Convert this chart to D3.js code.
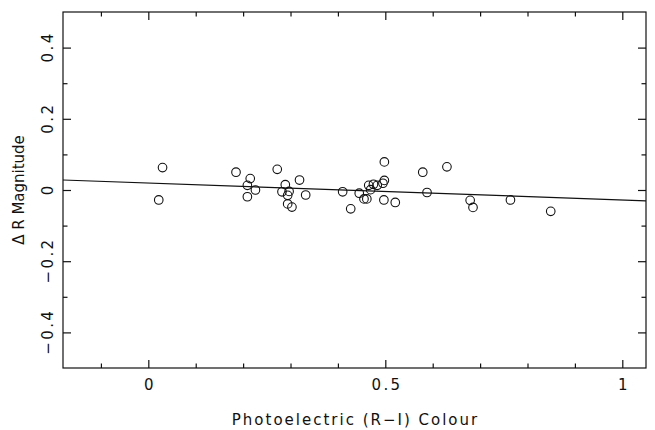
<!DOCTYPE html>
<html>
<head>
<meta charset="utf-8">
<script src="https://cdn.jsdelivr.net/npm/d3@7"></script>
<style>
  body { margin: 0; background: #fff; }
  svg text { font-family: "DejaVu Sans", sans-serif; fill: #111; }
</style>
</head>
<body>
<svg width="655" height="430"></svg>
<script>
// colour index (R-I) and residual magnitude for each star
const colourRI = [
  0.022, 0.030, 0.185, 0.215, 0.209, 0.226, 0.209, 0.272, 0.289, 0.282,
  0.297, 0.294, 0.294, 0.303, 0.319, 0.332, 0.410, 0.427, 0.445, 0.455,
  0.461, 0.465, 0.469, 0.475, 0.483, 0.495, 0.498, 0.498, 0.497, 0.521,
  0.579, 0.588, 0.630, 0.679, 0.685, 0.764, 0.849
];
const deltaR = [
  -0.028, 0.063, 0.050, 0.032, 0.013, 0.000, -0.019, 0.058, 0.015, -0.005,
  -0.004, -0.015, -0.039, -0.048, 0.028, -0.014, -0.005, -0.053, -0.009, -0.025,
  -0.025, 0.013, 0.001, 0.016, 0.013, 0.019, 0.027, 0.079, -0.028, -0.035,
  0.050, -0.007, 0.065, -0.029, -0.049, -0.028, -0.060
];

// linear fit
const fitIntercept = 0.0195;
const fitSlope = -0.0474;

const xMajor = [0, 0.5, 1];
const xMinor = [-0.1, 0.1, 0.2, 0.3, 0.4, 0.6, 0.7, 0.8, 0.9];
const yMajor = [-0.4, -0.2, 0, 0.2, 0.4];
const yMinor = [-0.3, -0.1, 0.1, 0.3];

const svg = d3.select("svg");
const width = +svg.attr("width");
const height = +svg.attr("height");
const margin = {top: 12, right: 9, bottom: 62, left: 63};

const x = d3.scaleLinear()
  .domain([-0.18, 1.05])
  .range([margin.left, width - margin.right]);

const y = d3.scaleLinear()
  .domain([-0.5, 0.5])
  .range([height - margin.bottom, margin.top]);

const fmt = d => d === 0 ? "0" : d3.format("")(+d.toFixed(1)).replace("-", "\u2212");

// frame
svg.append("rect")
  .attr("x", margin.left)
  .attr("y", margin.top)
  .attr("width", width - margin.left - margin.right)
  .attr("height", height - margin.top - margin.bottom)
  .attr("fill", "none")
  .attr("stroke", "#111")
  .attr("stroke-width", 1.2);

function ticks(axis, pos, values, size, labels) {
  const g = svg.append("g")
    .attr("transform", pos)
    .call(axis.tickValues(values).tickSize(-size).tickSizeOuter(0)
      .tickFormat(labels ? fmt : ""));
  g.select(".domain").remove();
  g.selectAll("line").attr("stroke", "#111").attr("stroke-width", 1.2);
  return g;
}

const bottomY = height - margin.bottom;
const rightX = width - margin.right;

// bottom
const gx = ticks(d3.axisBottom(x), `translate(0,${bottomY})`, xMajor, 8, true);
gx.selectAll("text")
  .attr("y", 22).attr("dy", null).attr("dx", "1.2")
  .style("font-size", "15px")
  .style("letter-spacing", "2.4px");
ticks(d3.axisBottom(x), `translate(0,${bottomY})`, xMinor, 4.5, false);
// top
ticks(d3.axisTop(x), `translate(0,${margin.top})`, xMajor, 8, false);
ticks(d3.axisTop(x), `translate(0,${margin.top})`, xMinor, 4.5, false);

// left
const gy = ticks(d3.axisLeft(y), `translate(${margin.left},0)`, yMajor, 8, true);
gy.selectAll("text")
  .attr("x", 1.2).attr("y", -10).attr("dy", null)
  .attr("transform", "rotate(-90)")
  .attr("text-anchor", "middle")
  .style("font-size", "15px")
  .style("letter-spacing", "2.4px");
ticks(d3.axisLeft(y), `translate(${margin.left},0)`, yMinor, 4.5, false);
// right
ticks(d3.axisRight(y), `translate(${rightX},0)`, yMajor, 8, false);
ticks(d3.axisRight(y), `translate(${rightX},0)`, yMinor, 4.5, false);

// fit line
const xs = x.domain();
svg.append("line")
  .attr("x1", x(xs[0]))
  .attr("y1", y(fitIntercept + fitSlope * xs[0]))
  .attr("x2", x(xs[1]))
  .attr("y2", y(fitIntercept + fitSlope * xs[1]))
  .attr("stroke", "#111")
  .attr("stroke-width", 1.2);

// points
svg.append("g")
  .selectAll("circle")
  .data(colourRI.map((c, i) => ({c, d: deltaR[i]})))
  .join("circle")
  .attr("cx", p => x(p.c))
  .attr("cy", p => y(p.d))
  .attr("r", 4.3)
  .attr("fill", "none")
  .attr("stroke", "#111")
  .attr("stroke-width", 1.1);

// titles
svg.append("text")
  .attr("x", (margin.left + rightX) / 2 + 1)
  .attr("y", 425)
  .attr("text-anchor", "middle")
  .style("font-size", "15px")
  .style("letter-spacing", "2px")
  .text("Photoelectric (R\u2212I) Colour");

svg.append("text")
  .attr("transform", `translate(24,${(margin.top + bottomY) / 2}) rotate(-90)`)
  .attr("text-anchor", "middle")
  .style("font-size", "15px")
  .text("\u0394 R Magnitude");
</script>
</body>
</html>
